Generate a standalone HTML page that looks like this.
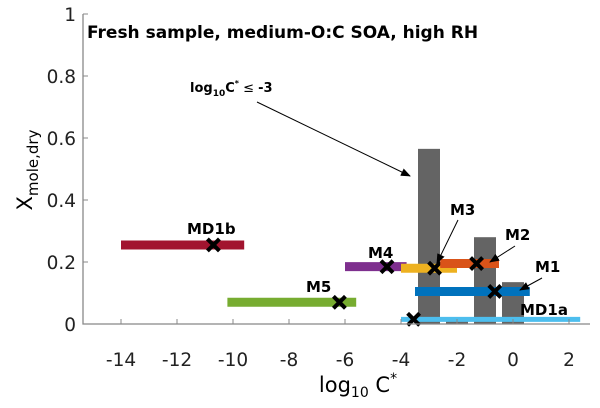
<!DOCTYPE html>
<html><head><meta charset="utf-8"><style>
body{margin:0;background:#fff;}
svg{display:block;font-family:"DejaVu Sans","Liberation Sans",sans-serif;}
</style></head><body>
<svg id="c" width="600" height="408">
<defs><marker id="ah" markerWidth="10" markerHeight="8" refX="9" refY="4" orient="auto"><path d="M0,0 L10,4 L0,8 z" fill="#000"/></marker></defs>
<g id="bars"></g><g id="series"></g><g id="axes"></g><g id="labels"></g>
<text x="87" y="38" font-size="17" font-weight="bold">Fresh sample, medium-O:C SOA, high RH</text>
<text x="190" y="92" font-size="13" font-weight="bold">log<tspan font-size="9" dy="4">10</tspan><tspan dy="-4">C</tspan><tspan font-size="8" dy="-6">*</tspan><tspan dy="6" font-weight="normal"> ≤ </tspan>-3</text>
<line x1="257" y1="102" x2="410" y2="176" stroke="#000" stroke-width="1" marker-end="url(#ah)"/>
<text x="358" y="392" font-size="21" text-anchor="middle">log<tspan font-size="14" dy="5">10</tspan><tspan dy="-5"> C</tspan><tspan font-size="14" dy="-9">*</tspan></text>
<text transform="translate(32,170) rotate(-90)" font-size="21" text-anchor="middle">X<tspan font-size="15" dy="6">mole,dry</tspan></text>
</svg>
<script>
const binCenters=[-3,-2,-1,0];
const binValues=[0.565,0.02,0.28,0.135];
const seriesNames=["MD1b","M5","M4","M3","M2","M1","MD1a"];
const seriesStart=[-14,-10.2,-6,-4,-2.6,-3.5,-4];
const seriesEnd=[-9.6,-5.6,-3.8,-2,-0.5,0.6,2.4];
const seriesY=[0.255,0.07,0.185,0.18,0.195,0.105,0.015];
const markerX=[-10.7,-6.2,-4.5,-2.8,-1.3,-0.65,-3.55];
const seriesColors=["#a2142f","#77ac30","#7e2f8e","#edb120","#d95319","#0072bd","#4dbeee"];
const xTicks=[-14,-12,-10,-8,-6,-4,-2,0,2];
const yTicks=[0,0.2,0.4,0.6,0.8,1];
const X=v=>513+28*v, Y=v=>324-310*v;
const NS="http://www.w3.org/2000/svg";
function mk(p,t,a){const e=document.createElementNS(NS,t);for(const k in a)e.setAttribute(k,a[k]);document.getElementById(p).appendChild(e);return e;}
binCenters.forEach((c,i)=>{const e=mk("bars","rect",{x:X(c)-11,y:Y(binValues[i]),width:22,height:Y(0)-Y(binValues[i]),fill:"#646464"});

});
seriesNames.forEach((n,i)=>{const w=i==6?5:9;
const l=mk("series","line",{x1:X(seriesStart[i]),x2:X(seriesEnd[i]),y1:Y(seriesY[i]),y2:Y(seriesY[i]),stroke:seriesColors[i],"stroke-width":w});


const mx=X(markerX[i]),my=Y(seriesY[i]);
const m=mk("series","path",{d:`M${mx-6},${my-6}L${mx+6},${my+6}M${mx+6},${my-6}L${mx-6},${my+6}`,stroke:"#000","stroke-width":4});

});
const labPos=[[187,234],[306,292],[368,258],[450,215],[505,240],[535,272],[520,315]];
labPos.forEach((p,i)=>{const t=mk("labels","text",{x:p[0],y:p[1],"font-size":"15","font-weight":"bold"});t.textContent=seriesNames[i];

});
[[458,220,437,263],[515,246,490,262],[542,278,520,290]].forEach((a,i)=>{const l=mk("labels","line",{x1:a[0],y1:a[1],x2:a[2],y2:a[3],stroke:"#000","stroke-width":1,"marker-end":"url(#ah)"});

});
const ax=mk("axes","path",{d:"M83,14L83,324L590,324",stroke:"#888",fill:"none","stroke-width":1.3});


xTicks.forEach(v=>{mk("axes","line",{x1:X(v),x2:X(v),y1:324,y2:319,stroke:"#888"});
const t=mk("axes","text",{x:X(v),y:366,"font-size":"18.5","text-anchor":"middle",fill:"#222"});t.textContent=v;

});
yTicks.forEach(v=>{mk("axes","line",{x1:83,x2:88,y1:Y(v),y2:Y(v),stroke:"#888"});
const t=mk("axes","text",{x:76,y:Y(v)+7,"font-size":"18.5","text-anchor":"end",fill:"#222"});t.textContent=v;

});
</script>
</body></html>
